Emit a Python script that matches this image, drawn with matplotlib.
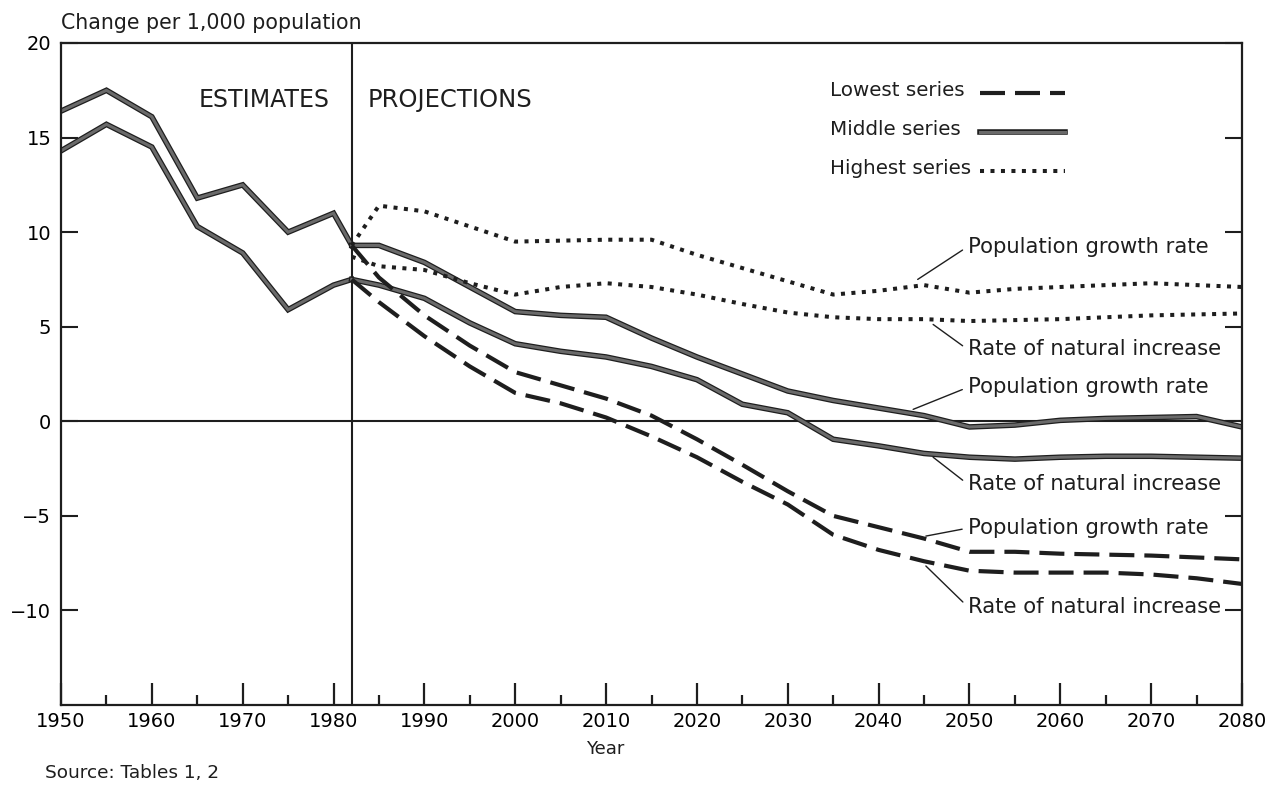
import matplotlib
matplotlib.use('Agg')
import matplotlib.pyplot as plt
import matplotlib.patheffects as pe

# estimates, 1950-1982
est_years = [1950, 1955, 1960, 1965, 1970, 1975, 1980, 1982]
est_growth = [16.4, 17.5, 16.1, 11.8, 12.5, 10.0, 11.0, 9.3]
est_natural = [14.3, 15.7, 14.5, 10.3, 8.9, 5.9, 7.2, 7.5]

# projections, 1982-2080
proj_years = [1982] + list(range(1985, 2081, 5))
high_growth = [9.3, 11.4, 11.1, 10.3, 9.5, 9.55, 9.6, 9.6, 8.8, 8.1, 7.4,
               6.7, 6.9, 7.2, 6.8, 7.0, 7.1, 7.2, 7.3, 7.2, 7.1]
high_natural = [8.7, 8.2, 8.0, 7.3, 6.7, 7.1, 7.3, 7.1, 6.7, 6.2, 5.75,
                5.5, 5.4, 5.4, 5.3, 5.35, 5.4, 5.5, 5.6, 5.65, 5.7]
mid_growth = [9.3, 9.3, 8.4, 7.1, 5.8, 5.6, 5.5, 4.4, 3.4, 2.5, 1.6,
              1.1, 0.7, 0.3, -0.3, -0.2, 0.05, 0.15, 0.2, 0.25, -0.3]
mid_natural = [7.5, 7.2, 6.5, 5.2, 4.1, 3.7, 3.4, 2.9, 2.2, 0.9, 0.45,
               -0.95, -1.3, -1.7, -1.9, -2.0, -1.9, -1.85, -1.85, -1.9, -1.95]
low_growth = [9.3, 7.6, 5.6, 4.0, 2.6, 1.9, 1.2, 0.3, -0.95, -2.3, -3.7,
              -5.0, -5.6, -6.2, -6.9, -6.9, -7.0, -7.05, -7.1, -7.2, -7.3]
low_natural = [7.5, 6.3, 4.5, 2.9, 1.5, 0.95, 0.2, -0.8, -1.9, -3.2, -4.4,
               -6.0, -6.8, -7.4, -7.9, -8.0, -8.0, -8.0, -8.1, -8.3, -8.6]

series_labels = ['Lowest series', 'Middle series', 'Highest series']
x_ticks = list(range(1950, 2081, 10))
y_ticks = [-10, -5, 0, 5, 10, 15, 20]

ink = '#1e1e1e'
solid = dict(color='#6a6a6a', lw=2.2, solid_joinstyle='miter',
             path_effects=[pe.Stroke(linewidth=4.0, foreground=ink), pe.Normal()])
dashed = dict(color=ink, lw=3.0, linestyle=(0, (6, 2.4)), dash_capstyle='butt')
dotted = dict(color=ink, lw=2.9, linestyle=(0, (1, 1.6)), dash_capstyle='butt')

fig = plt.figure(figsize=(12.82, 7.87), dpi=100)
ax = fig.add_axes([61/1282, 1 - 705/787, 1181/1282, 662/787])

ax.plot(est_years, est_growth, **solid)
ax.plot(est_years, est_natural, **solid)
ax.plot(proj_years, mid_growth, **solid)
ax.plot(proj_years, mid_natural, **solid)
ax.plot(proj_years, low_growth, **dashed)
ax.plot(proj_years, low_natural, **dashed)
ax.plot(proj_years, high_growth, **dotted)
ax.plot(proj_years, high_natural, **dotted)

ax.axhline(0, color=ink, lw=1.5, zorder=1)
ax.axvline(1982, color=ink, lw=1.5, zorder=1)

ax.set_xlim(1950, 2080)
ax.set_ylim(-15, 20)
ax.set_xticks(x_ticks)
ax.set_xticks(range(1955, 2080, 10), minor=True)
ax.set_yticks(y_ticks)
ax.tick_params(axis='x', which='major', direction='in', length=16, width=1.6,
               labelsize=14, pad=5, color=ink)
ax.tick_params(axis='x', which='minor', direction='in', length=7, width=1.6, color=ink)
ax.tick_params(axis='y', direction='in', length=12, width=1.5, right=True,
               labelsize=14, pad=7, color=ink)
for s in ax.spines.values():
    s.set_linewidth(1.6)
    s.set_color(ink)

ax.text(0, 1.03, 'Change per 1,000 population', transform=ax.transAxes,
        fontsize=14.8, ha='left', va='center', color=ink)
ax.set_xlabel('Year', fontsize=13, color=ink)
ax.xaxis.set_label_coords(0.461, -0.053)
fig.text(45/1282, 1 - 773/787, 'Source: Tables 1, 2', fontsize=13.3,
         ha='left', va='center', color=ink)

ax.text(1979.6, 17.0, 'ESTIMATES', fontsize=17, ha='right', va='center', color=ink)
ax.text(1983.7, 17.0, 'PROJECTIONS', fontsize=17.5, ha='left', va='center', color=ink)

notes = [
    ('Population growth rate', (2044.3, 7.5), (2049.8, 9.23)),
    ('Rate of natural increase', (2046.0, 5.12), (2049.8, 3.8)),
    ('Population growth rate', (2043.8, 0.63), (2049.8, 1.79)),
    ('Rate of natural increase', (2046.0, -1.9), (2049.8, -3.32)),
    ('Population growth rate', (2045.2, -6.07), (2049.8, -5.65)),
    ('Rate of natural increase', (2045.2, -7.65), (2049.8, -9.8)),
]
for text, xy, xytext in notes:
    ax.annotate(text, xy=xy, xytext=xytext, fontsize=15.2, ha='left', va='center',
                color=ink,
                arrowprops=dict(arrowstyle='-', color=ink, lw=1.0,
                                shrinkA=2, shrinkB=0, relpos=(0, 0.5)))

# legend: label text left-aligned, key line to its right
key_styles = [dashed, solid, dotted]
key_rows = [0.929, 0.869, 0.811]
for label, style, yy in zip(series_labels, key_styles, key_rows):
    ax.text(0.651, yy, label, transform=ax.transAxes, fontsize=14.3,
            ha='left', va='center', color=ink)
    ax.plot([0.778, 0.850], [yy - 0.004, yy - 0.004], transform=ax.transAxes, **style)

fig.savefig('out.png', dpi=100)
